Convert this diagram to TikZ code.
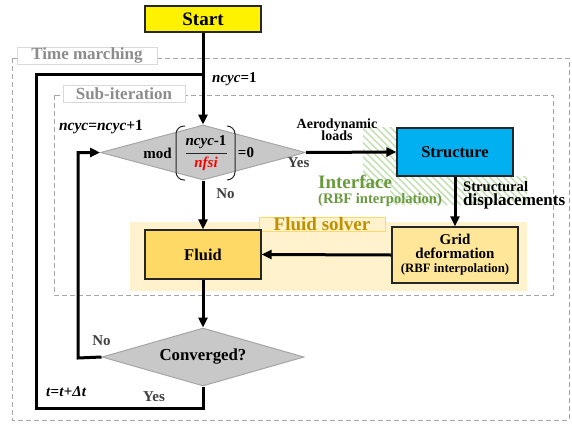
\documentclass[tikz,border=0pt]{standalone}
\usepackage{fontspec}
\setmainfont{Liberation Serif}
\usetikzlibrary{arrows.meta,shapes.geometric,patterns.meta}
\definecolor{dgray}{HTML}{A6A6A6}
\definecolor{tabgray}{HTML}{D9D9D9}
\definecolor{tabtext}{HTML}{8C8C8C}
\definecolor{diafill}{HTML}{C8C8C8}
\definecolor{structblue}{HTML}{00B0F0}
\definecolor{fluidgold}{HTML}{FFD966}
\definecolor{gridgold}{HTML}{FFE699}
\definecolor{solverbg}{HTML}{FFF2CC}
\definecolor{solvertext}{HTML}{BF9000}
\definecolor{solvertab}{HTML}{FFD966}
\definecolor{ifgreen}{HTML}{6A9A3F}
\definecolor{hatchgreen}{HTML}{C5E0B4}
\definecolor{lbl}{HTML}{404040}
\newcommand{\fs}[1]{\fontsize{#1}{#1}\selectfont}
\begin{document}
\begin{tikzpicture}[x=1pt,y=-1pt,
  flow/.style={line width=3pt,-{Triangle[length=10pt,width=9pt]}},
  loopline/.style={line width=3pt},
  procbox/.style={draw=black!85,line width=1.3pt,minimum width=#1,inner sep=0pt,font=\bfseries\fs{16.5}},
  decision/.style={diamond,aspect=3.5,draw=dgray,fill=diafill,line width=1pt,inner sep=0pt},
  dashbox/.style={draw=dgray,dashed,dash pattern=on 5pt off 3pt,line width=1pt},
  tabbox/.style={draw=tabgray,fill=white,line width=1pt,inner sep=0pt,font=\bfseries\fs{17},text=tabtext},
  lbltext/.style={font=\bfseries\fs{15},text=lbl,inner sep=0pt},
  linetext/.style={inner sep=0pt,font=\bfseries\fs{#1}}
]
\useasboundingbox (0,0) rectangle (572,423);

% dashed frames
\draw[dashbox] (12,58) rectangle (569,420);
\draw[dashbox] (54,95) rectangle (553,295);
\node[tabbox,minimum width=140pt,minimum height=17pt] (tmtab) at (87,55.5) {Time marching};
\node[tabbox,minimum width=122pt,minimum height=17pt] (sitab) at (124,93.5) {Sub-iteration};

% fluid solver background
\fill[solverbg] (130,222) rectangle (527,291);
\node[draw=solvertab,fill=solverbg,line width=1pt,minimum width=126pt,minimum height=14pt,inner sep=0pt,
      font=\bfseries\fs{19},text=solvertext] (fstab) at (322,224) {Fluid solver};

% interface hatching
\fill[pattern={Lines[angle=-45,distance=5pt,line width=1.6pt]},pattern color=hatchgreen]
  (363,127) -- (397,127) -- (397,176) -- (527,176) -- (527,205) -- (390,205) -- (390,187) -- (363,187) -- cycle;

% boxes
\node[procbox=116pt,minimum height=26pt,fill=yellow,font=\bfseries\fs{19}] (start) at (203,19) {Start};
\node[procbox=116pt,minimum height=48pt,fill=structblue] (struct) at (455,152) {Structure};
\node[procbox=116pt,minimum height=49pt,fill=fluidgold] (fluid) at (203,254.5) {Fluid};
\node[procbox=126pt,minimum height=56pt,fill=gridgold,align=center,font=\bfseries\fs{15}] (grid) at (455,255)
  {Grid\\[-1pt]deformation\\[-1pt]{\fs{12.8}(RBF interpolation)}};

% decisions
\node[decision,minimum width=205pt,minimum height=55pt] (d1) at (203,152.5) {};
\node[decision,minimum width=202pt,minimum height=58pt,font=\bfseries\fs{16.8}] (conv) at (203,357) {Converged?};

% diamond 1 contents
\node[font=\bfseries\fs{15},inner sep=0pt] (mod) at (157.5,153) {mod};
\draw[black!85,line width=1pt,rounded corners=8pt] (185,126) -- (176,126) -- (176,180) -- (185,180);
\draw[black!85,line width=1pt,rounded corners=8pt] (227,126) -- (235,126) -- (235,180) -- (227,180);
\node[font=\bfseries\fs{15},inner sep=0pt] (num) at (206,142) {\textit{ncyc}-1};
\coordinate (barl) at (186,153);
\coordinate (barr) at (227,153);
\draw[black!85,line width=0.8pt] (barl) -- (barr);
\node[font=\bfseries\itshape\fs{15},text=red,inner sep=0pt] (den) at (206,164) {nfsi};
\node[font=\bfseries\fs{15},inner sep=0pt] (eq0) at (246,153) {=0};

% connectors
\coordinate (jtop) at (203,74);
\coordinate (oleft) at (36,74);
\coordinate (obotl) at (36,408);
\coordinate (obot) at (203,408);
\coordinate (ileft) at (78,358);
\coordinate (itop) at (78,152.5);
\draw[flow] (start.south) -- (d1.north);
\draw[loopline] (conv.south) -- (obot) -- (obotl) -- (oleft) -- (jtop);
\draw[flow] (conv.west) -- (ileft) -- (itop) -- (d1.west);
\draw[flow] (d1.south) -- (fluid.north);
\draw[flow] (fluid.south) -- (conv.north);
\draw[flow] (d1.east) -- (struct.west);
\draw[flow] (struct.south) -- (grid.north);
\draw[flow] (grid.west) -- (fluid.east);

% labels
\node[font=\bfseries\fs{15},inner sep=0pt,anchor=west] (ncyc1) at (212,79) {\textit{ncyc}=1};
\node[font=\bfseries\fs{15.5},inner sep=0pt] (ncycinc) at (101,127) {\textit{ncyc}=\textit{ncyc}+1};
\node[font=\bfseries\fs{15},inner sep=0pt,anchor=west] (tinc) at (46,392) {\textit{t}=\textit{t}+\textit{Δt}};
\node[lbltext] (no1) at (225.5,194) {No};
\node[lbltext] (yes1) at (298.5,163) {Yes};
\node[lbltext] (no2) at (101.5,341) {No};
\node[lbltext] (yes2) at (154,397) {Yes};

\node[linetext=14,anchor=base] (aero1) at (337,128.3) {Aerodynamic};
\node[linetext=14,anchor=base] (aero2) at (337,140.7) {loads};
\node[linetext=19,anchor=base west,text=ifgreen] (if1) at (318,188.5) {Interface};
\node[linetext=14.6,anchor=base west,text=ifgreen] (if2) at (318,203.5) {(RBF interpolation)};
\node[linetext=14.6,anchor=base west] (sd1) at (463,191.7) {Structural};
\node[linetext=17,anchor=base west] (sd2) at (463,205.7) {displacements};
\end{tikzpicture}
\end{document}
